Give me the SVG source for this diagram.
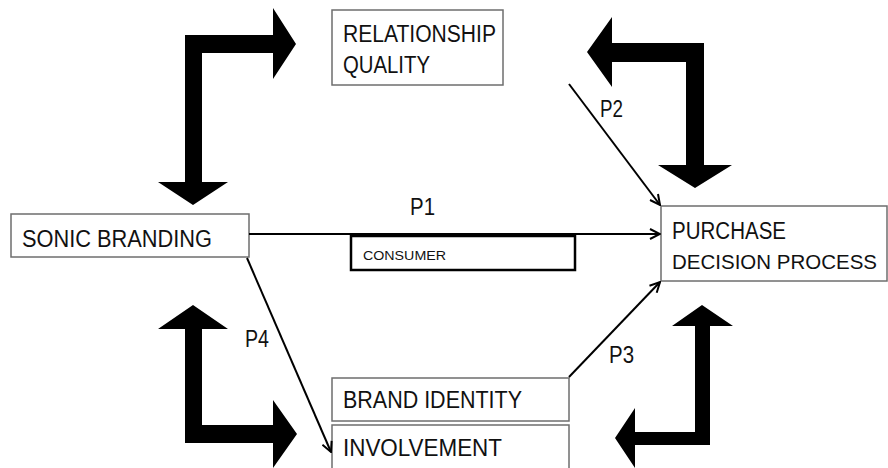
<svg xmlns="http://www.w3.org/2000/svg" width="888" height="468" viewBox="0 0 888 468">
  <style>
    .box { fill: #ffffff; stroke: #6e6e6e; stroke-width: 1.5; }
    .lbl { font-family: "Liberation Sans", Arial, sans-serif; font-size: 23px; fill: #111111; }
    .small { font-family: "Liberation Sans", Arial, sans-serif; font-size: 13px; fill: #111111; }
    .conn { stroke: #000; stroke-width: 2; fill: none; }
    .block { fill: #000; }
  </style>
  <defs>
    <marker id="open" viewBox="0 0 12 12" refX="11" refY="6" markerWidth="12" markerHeight="12" markerUnits="userSpaceOnUse" orient="auto">
      <polyline points="1,1 11,6 1,11" fill="none" stroke="#000" stroke-width="2"/>
    </marker>
  </defs>

  <g id="block-arrows">
    <polygon class="block" points="193,205 228,182 202,182 202,53 273,53 273,79 296,44 273,8 273,35 185,35 185,182 158,182"/>
    <polygon class="block" points="587,52 612,17 612,43 704,43 704,165 732,165 695,188 658,165 686,165 686,62 612,62 612,87"/>
    <polygon class="block" points="193,305 228,329 202,329 202,425 273,425 273,400 297,434 273,468 273,443 185,443 185,329 158,329"/>
    <polygon class="block" points="702,305 733,326 710,326 710,445 635,445 635,468 615,438 635,408 635,432 695,432 695,326 672,326"/>
  </g>

  <g id="sonic-branding">
    <rect class="box" x="11" y="214" width="238" height="43"/>
    <text class="lbl" x="22" y="247" textLength="190" lengthAdjust="spacingAndGlyphs">SONIC BRANDING</text>
  </g>

  <g id="relationship-quality">
    <rect class="box" x="332" y="10" width="171" height="75"/>
    <text class="lbl" x="343" y="42" textLength="153" lengthAdjust="spacingAndGlyphs">RELATIONSHIP</text>
    <text class="lbl" x="343" y="73" textLength="87" lengthAdjust="spacingAndGlyphs">QUALITY</text>
  </g>

  <g id="purchase-decision-process">
    <rect class="box" x="661" y="206" width="226" height="75"/>
    <text class="lbl" x="672" y="239" textLength="114" lengthAdjust="spacingAndGlyphs">PURCHASE</text>
    <text class="lbl" x="672" y="269" style="font-size:20px" textLength="205" lengthAdjust="spacingAndGlyphs">DECISION PROCESS</text>
  </g>

  <g id="brand-identity">
    <rect class="box" x="332" y="378" width="237" height="43"/>
    <text class="lbl" x="343" y="408" textLength="179" lengthAdjust="spacingAndGlyphs">BRAND IDENTITY</text>
  </g>

  <g id="involvement">
    <rect class="box" x="332" y="425" width="237" height="50"/>
    <text class="lbl" x="343" y="456" textLength="159" lengthAdjust="spacingAndGlyphs">INVOLVEMENT</text>
  </g>

  <g id="consumer">
    <rect x="351" y="236" width="224" height="34" fill="#fff" stroke="#000" stroke-width="2.5"/>
    <text class="small" x="363" y="260" textLength="83" lengthAdjust="spacingAndGlyphs">CONSUMER</text>
  </g>

  <g id="connectors">
    <line class="conn" x1="249" y1="234" x2="660" y2="234" marker-end="url(#open)" stroke-width="2.5"/>
    <line class="conn" x1="569" y1="84" x2="660" y2="205" marker-end="url(#open)"/>
    <line class="conn" x1="569" y1="377" x2="660" y2="282" marker-end="url(#open)"/>
    <line class="conn" x1="247" y1="258" x2="331" y2="452" marker-end="url(#open)"/>
    <text class="lbl" x="410" y="215" textLength="25" lengthAdjust="spacingAndGlyphs">P1</text>
    <text class="lbl" x="600" y="117" textLength="23" lengthAdjust="spacingAndGlyphs">P2</text>
    <text class="lbl" x="609" y="363" textLength="25" lengthAdjust="spacingAndGlyphs">P3</text>
    <text class="lbl" x="245" y="347" textLength="24" lengthAdjust="spacingAndGlyphs">P4</text>
  </g>
</svg>
